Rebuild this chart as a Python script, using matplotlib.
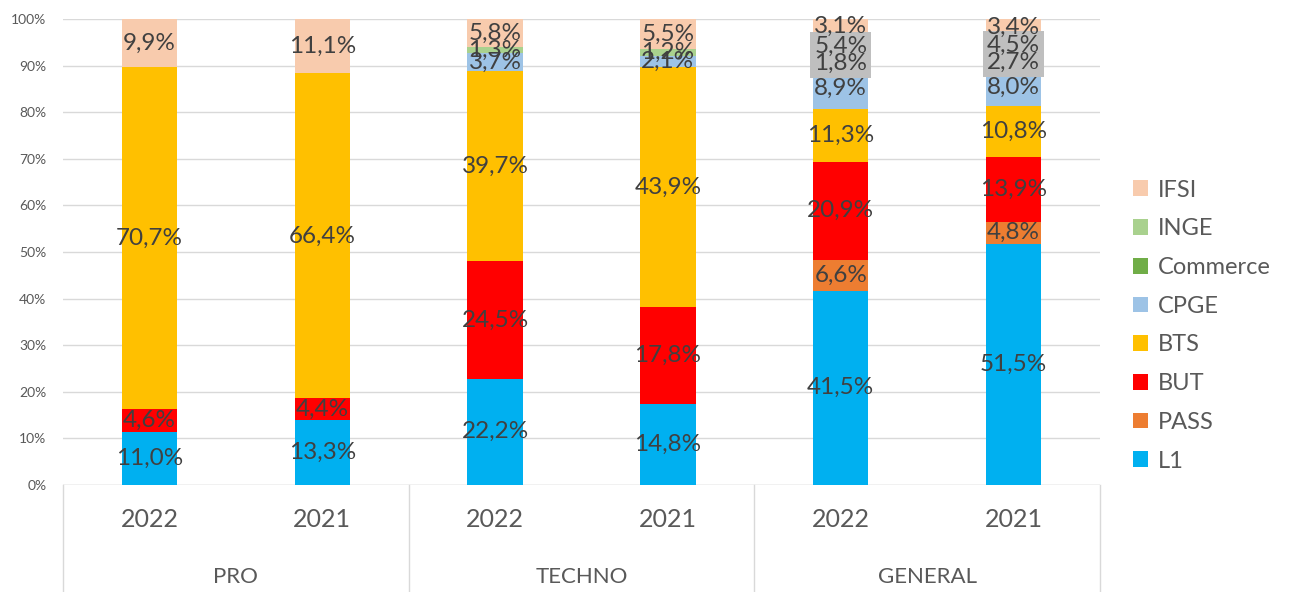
import numpy as np
import matplotlib.pyplot as plt
from matplotlib.patches import Patch

plt.rcParams['font.family'] = ['Lato', 'DejaVu Sans']

groups = ["PRO", "TECHNO", "GENERAL"]
years = ["2022", "2021", "2022", "2021", "2022", "2021"]

series = ["L1", "PASS", "BUT", "BTS", "CPGE", "Commerce", "INGE", "IFSI"]
colors = ["#00b0f0", "#ed7d31", "#ff0000", "#ffc000", "#9dc3e6", "#70ad47", "#a9d18e", "#f8cbad"]

l1 = [11.0, 13.3, 22.2, 14.8, 41.5, 51.5]
pass_ = [0, 0, 0, 0, 6.6, 4.8]
but = [4.6, 4.4, 24.5, 17.8, 20.9, 13.9]
bts = [70.7, 66.4, 39.7, 43.9, 11.3, 10.8]
cpge = [0, 0, 3.7, 2.1, 8.9, 8.0]
commerce = [0, 0, 0, 0, 1.8, 2.7]
inge = [0, 0, 1.3, 1.2, 5.4, 4.5]
ifsi = [9.9, 11.1, 5.8, 5.5, 3.1, 3.4]

data = np.array([l1, pass_, but, bts, cpge, commerce, inge, ifsi], dtype=float)
totals = data.sum(axis=0)
shares = data / totals * 100

fig = plt.figure(figsize=(12.97, 5.92), dpi=100)
ax = fig.add_axes([0.0486, 0.1807, 0.7995, 0.7872])

x = np.arange(len(years))
bottom = np.zeros(len(years))
for i, name in enumerate(series):
    ax.bar(x, shares[i], 0.32, bottom=bottom, color=colors[i], zorder=2)
    for j in range(len(years)):
        v = data[i, j]
        if v > 0:
            lbl = f"{v:.1f}%".replace(".", ",")
            yc = bottom[j] + shares[i, j] / 2
            if j >= 4 and name in ("Commerce", "INGE"):
                # grey label background (Excel style), drawn under all label texts
                ax.text(x[j], yc, lbl, ha="center", va="center", fontsize=17.5,
                        color=(0, 0, 0, 0), zorder=3,
                        bbox=dict(facecolor="#bfbfbf", edgecolor="none", pad=3))
            ax.text(x[j], yc, lbl, ha="center", va="center", fontsize=17.5,
                    color="#404040", zorder=4)
    bottom += shares[i]

ax.set_xlim(-0.5, 5.5)
ax.set_ylim(0, 100)
ax.set_yticks(np.arange(0, 101, 10))
ax.set_yticklabels([f"{t}%" for t in range(0, 101, 10)], fontsize=10, color="#595959")
ax.tick_params(axis="y", length=0, pad=12)
ax.set_xticks([])
ax.grid(axis="y", color="#d9d9d9", linewidth=1, zorder=0)
for s in ax.spines.values():
    s.set_visible(False)
ax.axhline(0, color="#d9d9d9", linewidth=1, zorder=1)

trans = ax.get_xaxis_transform()
for xv in [-0.5, 1.5, 3.5, 5.5]:
    ax.plot([xv, xv], [0, -0.23], color="#d9d9d9", lw=1, transform=trans, clip_on=False)
for j, yr in enumerate(years):
    ax.text(x[j], -0.075, yr, transform=trans, ha="center", va="center", fontsize=18, color="#595959")
for k, g in enumerate(groups):
    ax.text(2 * k + 0.5, -0.197, g, transform=trans, ha="center", va="center", fontsize=16, color="#595959")

handles = [Patch(facecolor=colors[i], label=series[i]) for i in range(len(series))][::-1]
fig.legend(handles=handles, loc="center left", bbox_to_anchor=(0.857, 0.45), frameon=False,
           fontsize=17, labelcolor="#595959", handlelength=0.65, handleheight=0.65,
           handletextpad=0.4, labelspacing=0.75)

fig.savefig("out.png", dpi=100)
